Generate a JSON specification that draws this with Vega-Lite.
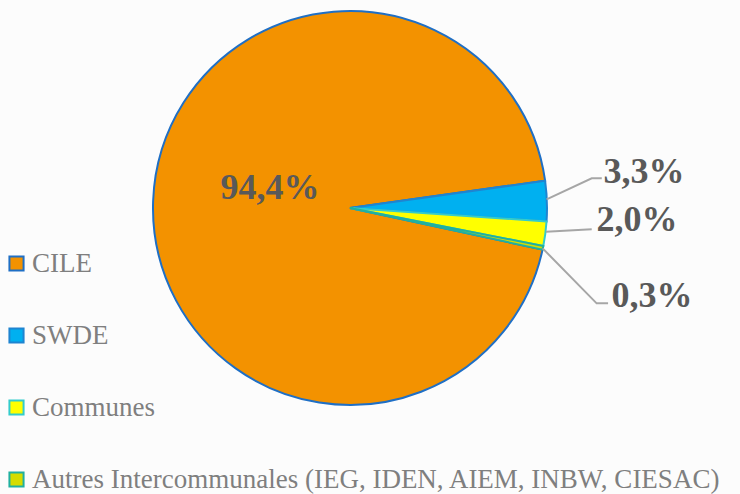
{
  "$schema": "https://vega.github.io/schema/vega-lite/v6.json",
  "width": 700,
  "height": 416,
  "autosize": {"type": "none"},
  "padding": {"left": 0, "top": 0, "right": 40, "bottom": 78},
  "background": "#FCFCFC",
  "config": {"view": {"stroke": null}},
  "datasets": {
    "shares": [
      {"categorie": "CILE", "part": 94.4, "ordre": 1},
      {"categorie": "SWDE", "part": 3.3, "ordre": 2},
      {"categorie": "Communes", "part": 2.0, "ordre": 3},
      {"categorie": "Autres Intercommunales (IEG, IDEN, AIEM, INBW, CIESAC)", "part": 0.3, "ordre": 4}
    ],
    "leaders": [
      {"serie": "SWDE", "pt": 1, "ux": 0.998, "uy": 0.044},
      {"serie": "SWDE", "pt": 2, "ux": 1.227, "uy": 0.151},
      {"serie": "SWDE", "pt": 3, "ux": 1.278, "uy": 0.151},
      {"serie": "Communes", "pt": 1, "ux": 0.995, "uy": -0.12},
      {"serie": "Communes", "pt": 2, "ux": 1.227, "uy": -0.108},
      {"serie": "Autres", "pt": 1, "ux": 0.978, "uy": -0.205},
      {"serie": "Autres", "pt": 2, "ux": 1.252, "uy": -0.484},
      {"serie": "Autres", "pt": 3, "ux": 1.31, "uy": -0.484}
    ],
    "labels": [
      {"texte": "94,4%", "ux": -0.406, "uy": 0.102},
      {"texte": "3,3%", "ux": 1.492, "uy": 0.183},
      {"texte": "2,0%", "ux": 1.457, "uy": -0.061},
      {"texte": "0,3%", "ux": 1.533, "uy": -0.447}
    ]
  },
  "layer": [
    {
      "data": {"name": "shares"},
      "mark": {"type": "arc", "outerRadius": 197, "strokeWidth": 2},
      "encoding": {
        "theta": {"field": "part", "type": "quantitative", "stack": true, "scale": {"range": [1.7837, 8.0669]}},
        "order": {"field": "ordre", "type": "quantitative"},
        "fill": {
          "field": "categorie", "type": "nominal",
          "sort": ["CILE", "SWDE", "Communes", "Autres Intercommunales (IEG, IDEN, AIEM, INBW, CIESAC)"],
          "scale": {
            "domain": ["CILE", "SWDE", "Communes", "Autres Intercommunales (IEG, IDEN, AIEM, INBW, CIESAC)"],
            "range": ["#F39200", "#00B0F0", "#FFFF00", "#D6DC00"]
          },
          "legend": {
            "title": null,
            "orient": "none",
            "legendX": 3,
            "legendY": 250,
            "symbolType": "square",
            "symbolSize": 200,
            "symbolStrokeWidth": 2,
            "labelFont": "Liberation Serif",
            "labelFontSize": 27,
            "labelColor": "#7F7F7F",
            "labelOffset": 2,
            "labelLimit": 0,
            "rowPadding": 44
          }
        },
        "stroke": {
          "field": "categorie", "type": "nominal",
          "sort": ["CILE", "SWDE", "Communes", "Autres Intercommunales (IEG, IDEN, AIEM, INBW, CIESAC)"],
          "scale": {
            "domain": ["CILE", "SWDE", "Communes", "Autres Intercommunales (IEG, IDEN, AIEM, INBW, CIESAC)"],
            "range": ["#1F6FC5", "#1F84D0", "#33CCCC", "#20B0A0"]
          },
          "legend": null
        }
      }
    },
    {
      "data": {"name": "leaders"},
      "mark": {"type": "line", "color": "#A6A6A6", "strokeWidth": 2},
      "encoding": {
        "x": {"field": "ux", "type": "quantitative", "scale": {"domain": [-1.7766, 1.7766], "nice": false, "zero": false}, "axis": null},
        "y": {"field": "uy", "type": "quantitative", "scale": {"domain": [-1.0558, 1.0558], "nice": false, "zero": false}, "axis": null},
        "detail": {"field": "serie", "type": "nominal"},
        "order": {"field": "pt", "type": "quantitative"}
      }
    },
    {
      "data": {"name": "labels"},
      "mark": {"type": "text", "font": "Liberation Serif", "fontWeight": "bold", "fontSize": 36, "color": "#595959", "baseline": "middle", "align": "center"},
      "encoding": {
        "x": {"field": "ux", "type": "quantitative", "scale": {"domain": [-1.7766, 1.7766], "nice": false, "zero": false}, "axis": null},
        "y": {"field": "uy", "type": "quantitative", "scale": {"domain": [-1.0558, 1.0558], "nice": false, "zero": false}, "axis": null},
        "text": {"field": "texte", "type": "nominal"}
      }
    }
  ]
}
